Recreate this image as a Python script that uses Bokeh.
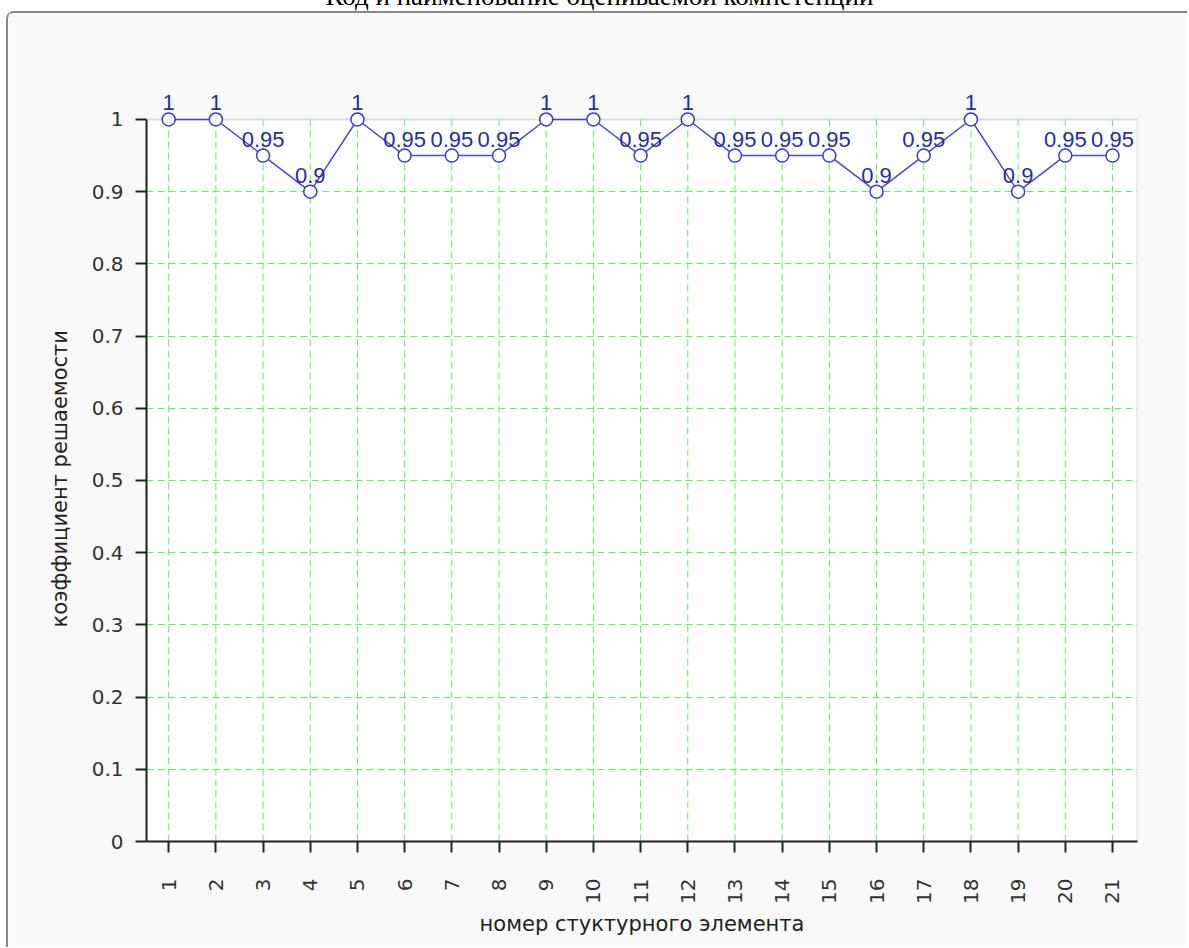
import math
from bokeh.plotting import figure
from bokeh.models import ColumnDataSource, Range1d, FixedTicker, Div, LabelSet, Title
from bokeh.layouts import column
from bokeh.core.properties import value
from bokeh.embed import file_html
from bokeh.resources import INLINE

title_text = "Код и наименование оцениваемой компетенции"
x_label = "номер стуктурного элемента"
y_label = "коэффициент решаемости"
elements = list(range(1, 22))
values = [1, 1, 0.95, 0.9, 1, 0.95, 0.95, 0.95, 1, 1, 0.95, 1, 0.95, 0.95, 0.95, 0.9, 0.95, 1, 0.9, 0.95, 0.95]
y_ticks = [0, 0.1, 0.2, 0.3, 0.4, 0.5, 0.6, 0.7, 0.8, 0.9, 1]

X0, X1 = 0.53, 21.53
Y0, Y1 = 0.0, 1.0

labels = [("%g" % v) for v in values]
src = ColumnDataSource(dict(x=elements, y=values, lab=labels))

p = figure(width=1181, height=936, output_backend="svg", toolbar_location=None,
           x_range=Range1d(X0, X1), y_range=Range1d(Y0, 1.108),
           min_border_left=138, min_border_right=52, min_border_top=28, min_border_bottom=108)
p.border_fill_color = "#f9f9f9"
p.background_fill_color = "#f9f9f9"
p.outline_line_color = None

# plot area (white) with light grey edge
area = p.quad(left=[X0], right=[X1], bottom=[Y0], top=[Y1], fill_color="white",
              line_color="#dddddd", line_width=2)
area.level = "image"

# vertical grid lines, limited to the value range
p.segment(x0=elements, y0=[Y0] * len(elements), x1=elements, y1=[Y1] * len(elements),
          line_color="#5ef05e", line_dash="7 4", line_width=1)

p.line("x", "y", source=src, line_color="#4848d0", line_width=1.5)
p.scatter("x", "y", source=src, size=13, fill_color="white", line_color="#3c3cc8", line_width=1.5)
lbl = LabelSet(x="x", y="y", text="lab", source=src, text_align="center", text_baseline="alphabetic",
               y_offset=9, text_color="#2a2aaa", text_font=value("Liberation Sans"), text_font_size="22px")
p.add_layout(lbl)

p.xaxis.ticker = FixedTicker(ticks=elements)
p.yaxis.ticker = FixedTicker(ticks=y_ticks)
p.yaxis.major_label_overrides = {0: "0", 1: "1"}
p.xaxis.major_label_orientation = math.pi / 2
p.yaxis.bounds = (Y0, Y1)
for ax in (p.xaxis[0], p.yaxis[0]):
    ax.axis_line_color = "#222222"
    ax.axis_line_width = 2
    ax.major_tick_line_color = "#222222"
    ax.major_tick_line_width = 2
    ax.major_tick_out = 11
    ax.major_tick_in = 0
    ax.minor_tick_line_color = None
    ax.major_label_text_font = "DejaVu Sans"
    ax.major_label_text_font_size = "20px"
    ax.major_label_text_color = "#333333"
    ax.axis_label_text_font = "DejaVu Sans"
    ax.axis_label_text_font_size = "21px"
    ax.axis_label_text_font_style = "normal"
    ax.axis_label_text_color = "#222222"
p.xaxis.axis_label = x_label
p.xaxis.major_label_standoff = 26
p.yaxis.major_label_standoff = 12
p.xaxis.axis_label_standoff = 5

# y-axis title, centred on the 0..1 value range (not on the whole frame)
ytitle = Title(text=y_label, align="left", vertical_align="bottom", offset=214, standoff=34,
               text_font="DejaVu Sans", text_font_size="21px", text_font_style="normal",
               text_color="#222222")
p.add_layout(ytitle, "left")

p.xgrid.grid_line_color = None
p.ygrid.ticker = FixedTicker(ticks=y_ticks[:-1])
p.ygrid.grid_line_color = "#5ef05e"
p.ygrid.grid_line_dash = "7 4"
p.ygrid.grid_line_width = 1

p.styles = {"border-left": "2px solid #888888", "border-top": "2px solid #888888",
            "border-top-left-radius": "8px", "margin-left": "6px"}

div = Div(text=('<div style="position:absolute; left:0px; top:-22px; width:1189px; text-align:center; '
                'font-family:\'Liberation Serif\'; font-size:27px; line-height:27px; color:#000;">'
                + title_text + '</div>'),
          width=1189, height=1, styles={"overflow": "visible"})

layout = column(div, p, spacing=0)
open("out.html", "w").write(file_html(layout, INLINE))
